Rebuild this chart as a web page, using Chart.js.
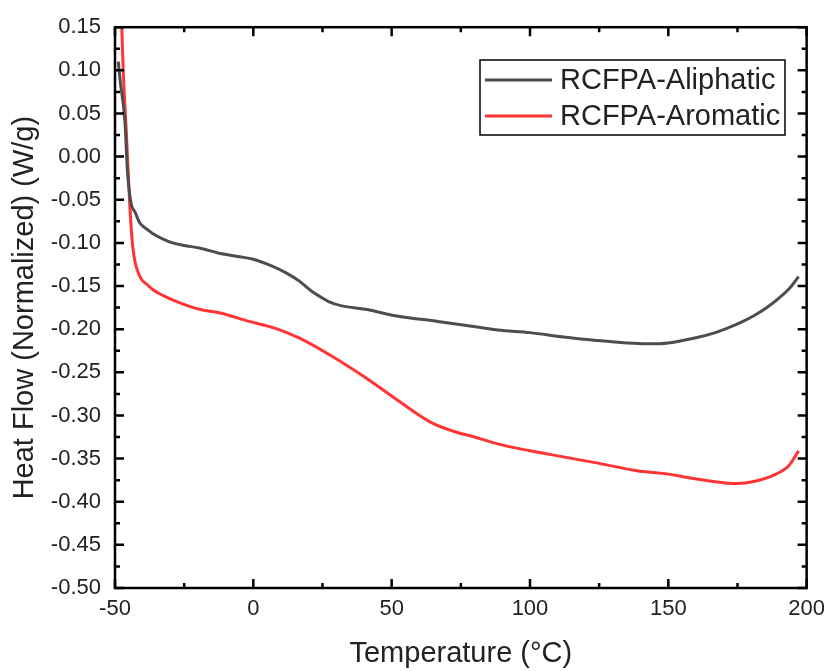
<!DOCTYPE html>
<html>
<head>
<meta charset="utf-8">
<script src="https://cdn.jsdelivr.net/npm/chart.js@4/dist/chart.umd.min.js"></script>
<style>
  html, body { margin: 0; padding: 0; background: #ffffff; }
  #wrap { width: 833px; height: 671px; }
</style>
</head>
<body>
<div id="wrap"><canvas id="c" width="833" height="671"></canvas></div>
<script>
// ---- Data ----
const seriesNames = ["RCFPA-Aliphatic", "RCFPA-Aromatic"];

const aliphaticTemp = [-48.8, -48.2, -46.4, -45.5, -44.2, -42.8, -41.0, -38.5, -36.4, -33.0, -29.2, -25.0, -19.5, -12.3, -5.0, 0.0, 6.8, 12.0, 16.5, 21.1, 25.0, 27.2, 32.0, 40.5, 52.4, 66.7, 82.2, 88.3, 100.0, 112.0, 124.0, 135.0, 142.0, 150.0, 160.0, 167.0, 172.0, 177.0, 181.7, 186.0, 190.0, 194.0, 197.1];
const aliphaticFlow = [0.110, 0.090, 0.040, -0.017, -0.054, -0.064, -0.077, -0.084, -0.089, -0.095, -0.100, -0.103, -0.106, -0.112, -0.116, -0.119, -0.127, -0.135, -0.144, -0.156, -0.164, -0.168, -0.173, -0.177, -0.185, -0.191, -0.198, -0.201, -0.204, -0.209, -0.213, -0.216, -0.217, -0.216, -0.210, -0.204, -0.198, -0.191, -0.183, -0.174, -0.164, -0.152, -0.139];

const aromaticTemp = [-47.8, -47.0, -45.8, -44.6, -43.5, -41.0, -38.5, -36.4, -32.0, -27.7, -19.5, -12.3, -1.5, 8.0, 16.5, 28.3, 40.5, 52.4, 64.2, 72.0, 80.0, 88.3, 100.0, 112.0, 124.0, 138.6, 150.0, 157.0, 165.0, 174.5, 181.7, 188.9, 193.6, 197.1];
const aromaticFlow = [0.175, 0.098, 0.021, -0.060, -0.107, -0.139, -0.148, -0.154, -0.162, -0.168, -0.177, -0.181, -0.191, -0.199, -0.210, -0.231, -0.256, -0.283, -0.308, -0.318, -0.325, -0.333, -0.341, -0.348, -0.355, -0.364, -0.368, -0.372, -0.376, -0.379, -0.376, -0.368, -0.358, -0.341];

const xTickValues = [-50, 0, 50, 100, 150, 200];
const yTickLabels = ["0.15","0.10","0.05","0.00","-0.05","-0.10","-0.15","-0.20","-0.25","-0.30","-0.35","-0.40","-0.45","-0.50"];

const xTitle = "Temperature (°C)";
const yTitle = "Heat Flow (Normalized) (W/g)";
const seriesColors = ["#4d4d4d", "#ff3535"];

function toPoints(xs, ys) { return xs.map((x, i) => ({ x: x, y: ys[i] })); }

// ---- Plugins: Origin-style frame with inward ticks, and boxed legend ----
const framePlugin = {
  id: 'frame',
  afterDatasetsDraw(chart) {
    const { ctx, chartArea: a, scales } = chart;
    const xs = scales.x, ys = scales.y;
    ctx.save();
    ctx.strokeStyle = '#000';
    ctx.lineWidth = 2.5;
    ctx.strokeRect(a.left, a.top, a.right - a.left, a.bottom - a.top);
    ctx.lineWidth = 2.5;
    const major = 9, minor = 5;
    ctx.beginPath();
    for (let v = xs.min; v <= xs.max + 1e-9; v += 25) {
      const px = xs.getPixelForValue(v);
      const isMajor = Math.abs(((v - xs.min) / 50) - Math.round((v - xs.min) / 50)) < 1e-6;
      const len = isMajor ? major : minor;
      ctx.moveTo(px, a.bottom); ctx.lineTo(px, a.bottom - len);
      ctx.moveTo(px, a.top); ctx.lineTo(px, a.top + len);
    }
    for (let i = 0; i <= 26; i++) {
      const v = ys.max - i * 0.025;
      const py = ys.getPixelForValue(v);
      const len = (i % 2 === 0) ? major : minor;
      ctx.moveTo(a.left, py); ctx.lineTo(a.left + len, py);
      ctx.moveTo(a.right, py); ctx.lineTo(a.right - len, py);
    }
    ctx.stroke();
    ctx.restore();
  }
};

const boxLegendPlugin = {
  id: 'boxLegend',
  afterDraw(chart) {
    const { ctx } = chart;
    const bx = 480, by = 60, bw = 305, bh = 75;
    ctx.save();
    ctx.fillStyle = '#fff';
    ctx.fillRect(bx, by, bw, bh);
    ctx.strokeStyle = '#000';
    ctx.lineWidth = 1.5;
    ctx.strokeRect(bx, by, bw, bh);
    ctx.font = '29px "Liberation Sans", Arial, sans-serif';
    ctx.textBaseline = 'middle';
    ctx.textAlign = 'left';
    chart.data.datasets.forEach((ds, i) => {
      const y = by + 20 + i * 36;
      ctx.strokeStyle = ds.borderColor;
      ctx.lineWidth = 3;
      ctx.beginPath();
      ctx.moveTo(bx + 5, y); ctx.lineTo(bx + 72, y);
      ctx.stroke();
      ctx.fillStyle = '#222';
      ctx.fillText(ds.label, bx + 80, y + 1);
    });
    ctx.restore();
  }
};

new Chart(document.getElementById('c'), {
  type: 'line',
  data: {
    datasets: [
      { label: seriesNames[0], data: toPoints(aliphaticTemp, aliphaticFlow), borderColor: seriesColors[0], borderWidth: 3, pointRadius: 0, fill: false, cubicInterpolationMode: 'monotone' },
      { label: seriesNames[1], data: toPoints(aromaticTemp, aromaticFlow), borderColor: seriesColors[1], borderWidth: 3, pointRadius: 0, fill: false, cubicInterpolationMode: 'monotone' }
    ]
  },
  options: {
    responsive: false,
    animation: false,
    devicePixelRatio: 1,
    layout: { padding: { left: 0, top: 26, right: 21, bottom: 0 } },
    plugins: { legend: { display: false }, tooltip: { enabled: false } },
    scales: {
      x: {
        type: 'linear',
        min: -50, max: 200,
        afterFit(scale) { scale.height = 83; },
        afterBuildTicks(scale) { scale.ticks = xTickValues.map(v => ({ value: v })); },
        grid: { display: false, drawTicks: false },
        border: { display: false },
        ticks: { padding: 8, color: '#222', font: { family: '"Liberation Sans", Arial, sans-serif', size: 22 }, maxRotation: 0, autoSkip: false },
        title: { display: true, text: xTitle, color: '#222', font: { family: '"Liberation Sans", Arial, sans-serif', size: 29 }, padding: { top: 0, bottom: 0 } }
      },
      y: {
        type: 'linear',
        min: -0.5, max: 0.15,
        afterFit(scale) { scale.width = 115; },
        afterBuildTicks(scale) { scale.ticks = yTickLabels.map(t => ({ value: parseFloat(t) })); },
        grid: { display: false, drawTicks: false },
        border: { display: false },
        ticks: {
          padding: 14, color: '#222', autoSkip: false,
          font: { family: '"Liberation Sans", Arial, sans-serif', size: 22 },
          callback(value, index) { return yTickLabels[index]; }
        },
        title: { display: true, text: yTitle, color: '#222', font: { family: '"Liberation Sans", Arial, sans-serif', size: 29 }, padding: { top: 8, bottom: 0 } }
      }
    }
  },
  plugins: [framePlugin, boxLegendPlugin]
});
</script>
</body>
</html>
